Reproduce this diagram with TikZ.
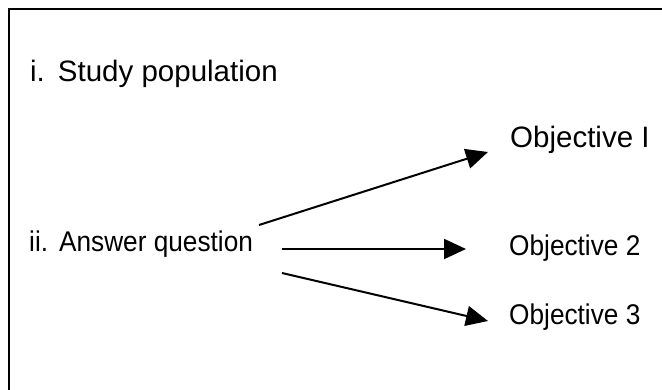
\documentclass[tikz,border=0pt]{standalone}
\usepackage{fontspec}
\setmainfont{Liberation Sans}
\newfontfamily\narrowfont[FakeStretch=0.92]{Liberation Sans}
\usetikzlibrary{arrows.meta}
\begin{document}
\begin{tikzpicture}[x=1pt,y=-1pt,
  wide/.style={anchor=base west,inner sep=0pt,font=\fontsize{29.5}{34}\selectfont},
  narrow/.style={anchor=base west,inner sep=0pt,font=\narrowfont\fontsize{28.5}{32}\selectfont},
  conn/.style={line width=2pt,-{Triangle[length=22pt,width=20pt]}},
  frame/.style={line width=2.2pt}]
\useasboundingbox (0,0) rectangle (662,390);
\clip (0,0) rectangle (662,390);
\draw[frame] (9,400) -- (9,9) -- (670,9);
\node[wide] (sp) at (30,82) {i.\hspace{13pt}Study population};
\node[wide] (o1) at (510,148) {Objective I};
\node[narrow] (aq) at (29,252) {ii.\hspace{11pt}Answer question};
\node[narrow] (o2) at (509,256) {Objective 2};
\node[narrow] (o3) at (509,325) {Objective 3};
\coordinate (s1) at (259,225);
\coordinate (e1) at (488,152);
\coordinate (s2) at (282,249);
\coordinate (e2) at (466,249);
\coordinate (s3) at (282,273);
\coordinate (e3) at (488,321);
\draw[conn] (s1) -- (e1);
\draw[conn] (s2) -- (e2);
\draw[conn] (s3) -- (e3);
\end{tikzpicture}
\end{document}
